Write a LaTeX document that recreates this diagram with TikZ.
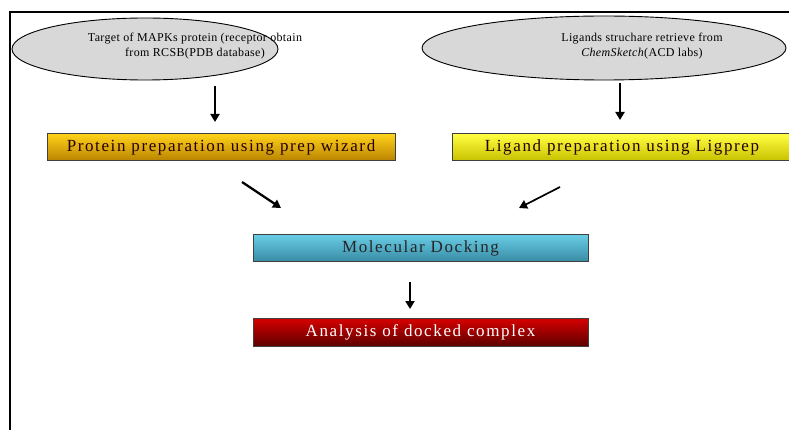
\documentclass[tikz,border=0pt]{standalone}
\usepackage{fontspec}
\setmainfont{Liberation Serif}
\usetikzlibrary{shapes.geometric,arrows.meta}
\definecolor{goldtop}{HTML}{FFD21A}
\definecolor{goldbot}{HTML}{B88200}
\definecolor{yeltop}{HTML}{FFFF40}
\definecolor{yelbot}{HTML}{C8C000}
\definecolor{cyantop}{HTML}{68CCE4}
\definecolor{cyanbot}{HTML}{3A8CA6}
\definecolor{redtop}{HTML}{D80000}
\definecolor{redbot}{HTML}{5E0000}
\definecolor{ellfill}{HTML}{D8D8D8}
\begin{document}
\begin{tikzpicture}[x=1pt,y=-1pt,
  ell/.style={ellipse, draw=black, line width=0.9pt, fill=ellfill, inner sep=0pt},
  etext/.style={align=center, font=\fontsize{12}{15}\selectfont\addfontfeature{LetterSpace=3}, inner sep=0pt},
  stepbox/.style={draw=black!75, line width=1pt, inner sep=0pt, minimum height=27pt,
     font=\fontsize{17}{19}\selectfont\addfontfeature{LetterSpace=9.5}},
  arr/.style={-{Triangle[length=8pt,width=9pt]}, line width=2.3pt}
]
\useasboundingbox (0,0) rectangle (789,430);
% frame
\draw[line width=2.2pt] (10,440) -- (10,12) -- (800,12);
% ellipses
\node[ell, minimum width=266pt, minimum height=62pt] (e1) at (145,49) {};
\node[etext] (e1t) at (195,46) {Target of MAPKs protein (receptor obtain\\from RCSB(PDB database)};
\node[ell, minimum width=364pt, minimum height=64pt] (e2) at (604,48) {};
\node[etext] (e2t) at (642,46) {Ligands struchare retrieve from\\\textit{ChemSketch}(ACD labs)};
% boxes
\node[stepbox, minimum width=348pt, top color=goldtop, bottom color=goldbot, text=black!85!red] (b1) at (221,147.5) {Protein preparation using prep wizard};
\node[stepbox, minimum width=340pt, top color=yeltop, bottom color=yelbot, text=black!85!red] (b2) at (622,147.5) {Ligand preparation using Ligprep};
\node[stepbox, minimum width=335pt, minimum height=26pt, top color=cyantop, bottom color=cyanbot, text=black!85] (b3) at (420.5,248) {Molecular Docking};
\node[stepbox, minimum width=335pt, minimum height=28pt, top color=redtop, bottom color=redbot, text=white] (b4) at (420.5,332) {Analysis of docked complex};
% arrow end points
\coordinate (a1s) at (215,86);  \coordinate (a1e) at (215,122);
\coordinate (a2s) at (620,83);  \coordinate (a2e) at (620,120);
\coordinate (a3s) at (242,182); \coordinate (a3e) at (281,208);
\coordinate (a4s) at (560,187); \coordinate (a4e) at (519,208);
\coordinate (a5s) at (410,282); \coordinate (a5e) at (410,309);
\draw[arr] (a1s) -- (a1e);
\draw[arr] (a2s) -- (a2e);
\draw[arr] (a3s) -- (a3e);
\draw[arr, line width=1.7pt] (a4s) -- (a4e);
\draw[arr] (a5s) -- (a5e);
\end{tikzpicture}
\end{document}
